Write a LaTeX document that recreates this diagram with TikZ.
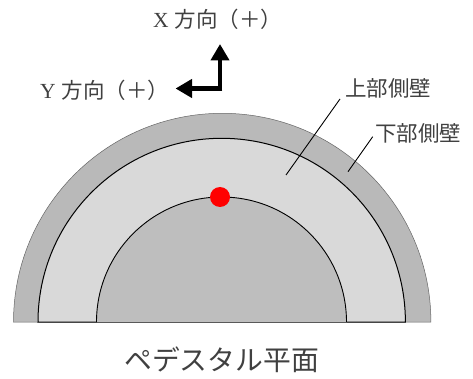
\documentclass[tikz,border=0pt]{standalone}
\usepackage{fontspec}
\setmainfont{Liberation Serif}
\newfontfamily\cjk{Noto Sans CJK JP}
\usetikzlibrary{arrows.meta}
\definecolor{ringout}{HTML}{B9B9B9}
\definecolor{ringmid}{HTML}{D9D9D9}
\definecolor{core}{HTML}{BEBEBE}
\definecolor{txt}{HTML}{404040}
\tikzset{
  lab/.style={inner sep=0pt,text=txt,font=\fontsize{21.5}{23}\selectfont\cjk},
  titlelab/.style={inner sep=0pt,text=txt,font=\fontsize{27.8}{29}\selectfont\cjk},
  axisarrow/.style={line width=4.5pt,-{Triangle[length=16.5pt,width=18pt]}},
  leader/.style={line width=0.9pt,black},
}
\begin{document}
\begin{tikzpicture}[x=1pt,y=-1pt]
\useasboundingbox (0,0) rectangle (473,379);
% half rings
\filldraw[fill=ringout,draw=gray!80!black,line width=0.5pt] (13.5,322) arc[start angle=180,end angle=360,radius=208.7] -- cycle;
\filldraw[fill=ringmid,draw=black,line width=1pt] (38,322) arc[start angle=180,end angle=360,radius=183.7] -- cycle;
\filldraw[fill=core,draw=black,line width=0.9pt] (96.5,322) arc[start angle=180,end angle=360,radius=125];
\draw[gray!70!black,line width=0.9pt] (96.5,322) -- (346.5,322);
\fill[red] (220,197) circle[radius=10];
% arrows
\coordinate (corner) at (220,88.5);
\coordinate (xtip) at (220,44);
\coordinate (ytip) at (175.5,88.5);
\draw[axisarrow] (corner) -- (xtip);
\draw[axisarrow] ([xshift=2.25pt]corner) -- (ytip);
% labels
\node[lab,anchor=west] (xlab) at (153,19) {\textrm{X}\hspace{6pt}方向（＋）};
\node[lab,anchor=west] (ylab) at (40,90) {\textrm{Y}\hspace{6pt}方向（＋）};
\node[lab,anchor=west] (upper) at (345,88) {上部側壁};
\node[lab,anchor=west] (lower) at (375,133) {下部側壁};
\node[titlelab] (title) at (221.5,360) {ペデスタル平面};
% leaders
\coordinate (ustart) at (340,99);
\coordinate (lstart) at (372.7,136.7);
\coordinate (uend) at (286,175);
\coordinate (lend) at (348,171.7);
\draw[leader] (ustart) -- (uend);
\draw[leader] (lstart) -- (lend);
\end{tikzpicture}
\end{document}
